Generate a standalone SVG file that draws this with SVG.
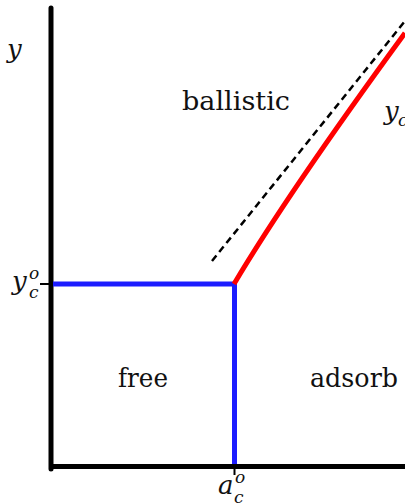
<svg xmlns="http://www.w3.org/2000/svg" width="405" height="504" viewBox="0 0 405 504">
<style>
text{font-family:'DejaVu Serif','Liberation Serif',serif;fill:#111}
.t{font-size:26px}
.m{font-style:italic;font-size:26px}
.s{font-style:italic;font-size:17px}
.ax{stroke:#000;stroke-width:5;fill:none}
.bl{stroke:#1c1cff;stroke-width:5;fill:none}
</style>
<rect width="405" height="504" fill="#fff"/>
<g id="axes">
<line class="ax" x1="51" y1="8" x2="51" y2="469" stroke-linecap="round"/>
<line class="ax" x1="49" y1="466.5" x2="405" y2="466.5"/>
<line x1="40" y1="284" x2="51" y2="284" stroke="#000" stroke-width="2"/>
<line x1="234.5" y1="466" x2="234.5" y2="475" stroke="#000" stroke-width="2"/>
</g>
<g id="connectors">
<line class="bl" x1="53" y1="284" x2="234.5" y2="284"/>
<line class="bl" x1="234.5" y1="284" x2="234.5" y2="464"/>
<path d="M234,284 Q288,193 405,33" stroke="#ff0000" stroke-width="5" fill="none"/>
<line x1="212" y1="261" x2="405" y2="21" stroke="#000" stroke-width="2.5" stroke-dasharray="7,4.5"/>
</g>
<g id="labels">
<text class="m" x="7" y="58">y</text>
<text class="t" x="182" y="110" textLength="108" lengthAdjust="spacingAndGlyphs">ballistic</text>
<text class="t" x="118" y="387" textLength="50" lengthAdjust="spacingAndGlyphs">free</text>
<text class="t" x="310" y="387" textLength="88" lengthAdjust="spacingAndGlyphs">adsorb</text>
<text class="m" x="384" y="120">y</text>
<text class="s" x="398" y="126">c</text>
<text class="m" x="12" y="290">y</text>
<text class="s" x="29" y="279">o</text>
<text class="s" x="29" y="298">c</text>
<text class="m" x="218" y="494">a</text>
<text class="s" x="235" y="483">o</text>
<text class="s" x="234" y="503">c</text>
</g>
</svg>
